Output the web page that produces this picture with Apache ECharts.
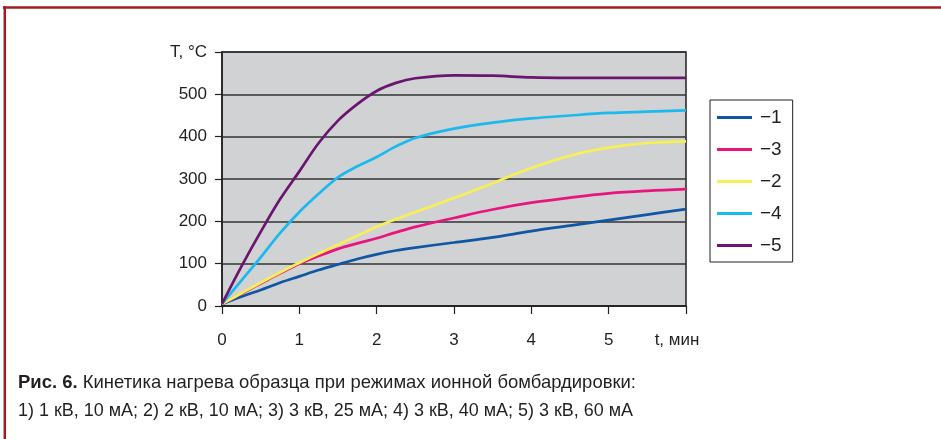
<!DOCTYPE html>
<html>
<head>
<meta charset="utf-8">
<script src="https://cdn.jsdelivr.net/npm/echarts@6/dist/echarts.min.js"></script>
<style>
html,body{margin:0;padding:0;background:#fff;}
#chart{width:941px;height:439px;}
</style>
</head>
<body>
<div id="chart"></div>
<script>
// time, min
const times = [0, 0.25, 0.5, 0.75, 1, 1.25, 1.5, 1.75, 2, 2.25, 2.5, 3, 3.5, 4, 4.5, 5, 5.5, 6];
// temperature, °C
const s1 = [5, 22, 38, 55, 70, 85, 98, 111, 122, 131, 138, 150, 162, 177, 190, 203, 216, 229];
const s3 = [5, 29, 53, 77, 100, 118, 135, 148, 160, 174, 187, 208, 228, 244, 256, 266, 272, 276];
const s2 = [5, 30, 55, 79, 102, 124, 145, 166, 187, 205, 222, 255, 290, 326, 355, 374, 385, 389];
const s4 = [5, 60, 115, 172, 222, 265, 304, 330, 352, 377, 397, 419, 433, 443, 450, 456, 459, 462];
const s5 = [5, 93, 175, 252, 318, 385, 438, 477, 508, 527, 538, 545, 544, 540, 539, 539, 539, 539];
const seriesNames = ['−1', '−3', '−2', '−4', '−5'];
const seriesValues = [s1, s3, s2, s4, s5];
const seriesColors = ['#0f56a3', '#e8157f', '#f8ef55', '#1cb9ee', '#6a1670'];
const yAxisTitle = 'T, °C';
const xAxisTitle = 't, мин';
const captionBold = 'Рис. 6.';
const captionLine1 = ' Кинетика нагрева образца при режимах ионной бомбардировки:';
const captionLine2 = '1) 1 кВ, 10 мА; 2) 2 кВ, 10 мА; 3) 3 кВ, 25 мА; 4) 3 кВ, 40 мА; 5) 3 кВ, 60 мА';

const capFamily = '"Liberation Sans", Arial, sans-serif';
const capSize = 19;
const cv = document.createElement('canvas').getContext('2d');
cv.font = 'bold ' + capSize + 'px ' + capFamily;
const wb = cv.measureText(captionBold).width;
cv.font = capSize + 'px ' + capFamily;
const wr = cv.measureText(captionLine1).width;
const w2 = cv.measureText(captionLine2).width;
const sc1 = 618 / (wb + wr);
const sc2 = 615 / w2;

const chart = echarts.init(document.getElementById('chart'), null, {renderer: 'canvas'});
const axisFont = 'Liberation Sans';
const axisSize = 17;
const dark = '#231f20';

const series = seriesNames.map((n, i) => ({
  name: n,
  type: 'line',
  data: times.map((t, j) => [t, seriesValues[i][j]]),
  smooth: 0.35,
  showSymbol: false,
  symbol: 'none',
  lineStyle: {color: seriesColors[i], width: 2.7},
  itemStyle: {color: seriesColors[i]},
  z: 3
}));

chart.setOption({
  animation: false,
  backgroundColor: '#fff',
  grid: {
    left: 222, right: 255, top: 52, bottom: 133,
    show: true, backgroundColor: '#d1d2d4',
    borderColor: dark, borderWidth: 1.5
  },
  xAxis: {
    type: 'value', min: 0, max: 6, interval: 1,
    axisLine: {show: true, lineStyle: {color: dark, width: 1.5}},
    axisTick: {show: true, length: 8, lineStyle: {color: dark, width: 1.2}},
    splitLine: {show: false},
    axisLabel: {
      margin: 26, fontFamily: axisFont, fontSize: axisSize, color: dark,
      formatter: v => v === 6 ? '{u|' + xAxisTitle + '}' : String(v),
      rich: {u: {fontFamily: axisFont, fontSize: axisSize, color: dark, padding: [0, 18, 0, 0]}}
    }
  },
  yAxis: {
    type: 'value', min: 0, max: 600, interval: 100,
    axisLine: {show: true, lineStyle: {color: dark, width: 1.5}},
    axisTick: {show: true, length: 7, lineStyle: {color: dark, width: 1.2}},
    splitLine: {show: true, lineStyle: {color: '#333', width: 1.5}},
    axisLabel: {
      margin: 15, fontFamily: axisFont, fontSize: axisSize, color: dark,
      formatter: v => v === 600 ? yAxisTitle : String(v)
    }
  },
  legend: {
    orient: 'vertical', left: 710, top: 100,
    data: seriesNames,
    icon: 'rect', itemWidth: 35, itemHeight: 3, itemGap: 13,
    padding: [8, 11, 7, 7],
    borderColor: dark, borderWidth: 1,
    textStyle: {fontFamily: 'Liberation Sans', fontSize: 19, color: dark, lineHeight: 16, padding: [0, 0, 0, 3]}
  },
  graphic: [
    {type: 'line', shape: {x1: 3, y1: 7.5, x2: 941, y2: 7.5}, style: {stroke: '#a01c22', lineWidth: 2.5}, silent: true},
    {type: 'line', shape: {x1: 4.8, y1: 6.3, x2: 4.8, y2: 439}, style: {stroke: '#a01c22', lineWidth: 2.5}, silent: true},
    {type: 'text', x: 18, y: 383, scaleX: sc1,
      style: {text: '{b|' + captionBold + '}' + captionLine1, fontFamily: capFamily, fontSize: capSize, fill: dark,
        verticalAlign: 'middle',
        rich: {b: {fontWeight: 'bold', fontFamily: capFamily, fontSize: capSize, fill: dark}}}},
    {type: 'text', x: 18, y: 411, scaleX: sc2,
      style: {text: captionLine2, fontFamily: capFamily, fontSize: capSize, fill: dark, verticalAlign: 'middle'}}
  ],
  series: series
});
</script>
</body>
</html>
